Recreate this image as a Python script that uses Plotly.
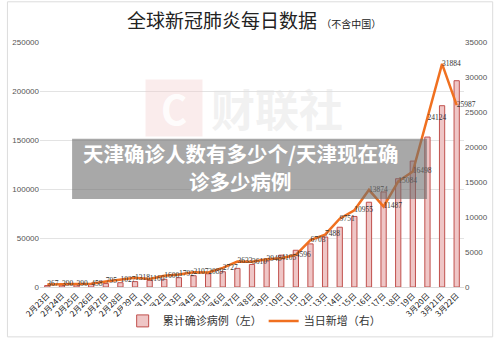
import plotly.graph_objects as go

dates = ['2月23日', '2月24日', '2月25日', '2月26日', '2月27日', '2月28日', '2月29日',
         '3月1日', '3月2日', '3月3日', '3月4日', '3月5日', '3月6日', '3月7日', '3月8日',
         '3月9日', '3月10日', '3月11日', '3月12日', '3月13日', '3月14日', '3月15日',
         '3月16日', '3月17日', '3月18日', '3月19日', '3月20日', '3月21日', '3月22日']

cumulative = [1500, 1900, 2300, 2700, 3500, 4400, 5500,
              6700, 7900, 9500, 11500, 13500, 15600, 19000, 23000,
              26500, 32500, 37500, 44000, 51000, 61000, 72000,
              86500, 97000, 110500, 128500, 153000, 185000, 210500]

daily_new = [367, 390, 390, 458, 795, 1027, 1318,
             1160, 1600, 1792, 2107, 2089, 2727, 3633, 3610,
             3948, 4105, 4596, 6703, 7488, 9751, 10955,
             13874, 11487, 15084, 16498, 24124, 31884, 25987]

left_ticks = [0, 50000, 100000, 150000, 200000, 250000]
right_ticks = [0, 5000, 10000, 15000, 20000, 25000, 30000, 35000]

W, H = 500, 347
ML, MR, MT, MB = 34, 30, 42, 52
PW, PH = W - ML - MR, H - MT - MB


def px(x):
    return (x - ML) / PW


def py(y):
    return (H - MB - y) / PH


fig = go.Figure()
fig.add_trace(go.Bar(
    x=dates, y=cumulative, name='累计确诊病例（左）',
    marker=dict(color='#efc6c6', line=dict(color='#c0504d', width=1)),
    yaxis='y'))
fig.add_trace(go.Scatter(
    x=dates, y=daily_new, name='当日新增（右）', mode='lines+text',
    line=dict(color='#f07020', width=2.5),
    text=[str(v) for v in daily_new], textposition='middle right',
    textfont=dict(size=7.5, color='#333', family='Liberation Serif'),
    cliponaxis=False,
    yaxis='y2'))

fig.update_layout(
    width=W, height=H,
    margin=dict(l=ML, r=MR, t=MT, b=MB),
    paper_bgcolor='white', plot_bgcolor='white',
    bargap=0.64,
    showlegend=True,
    legend=dict(orientation='h', x=px(119), xanchor='left', y=py(330), yanchor='middle',
                font=dict(size=11, family='Noto Sans CJK SC', color='#333'),
                entrywidth=96, entrywidthmode='pixels', itemwidth=30),
    xaxis=dict(type='category', range=[-0.5, 28.5], tickangle=-45,
               tickfont=dict(size=8, color='#222', family='Noto Sans CJK SC'),
               showgrid=False, showline=True, linecolor='#d9d9d9', ticks=''),
    yaxis=dict(range=[0, 250000], tickvals=left_ticks, ticktext=[str(v) for v in left_ticks],
               gridcolor='#e3e3e3', zeroline=False,
               tickfont=dict(size=8, color='#555', family='Liberation Sans')),
    yaxis2=dict(range=[0, 35000], tickvals=right_ticks, ticktext=[str(v) for v in right_ticks],
                overlaying='y', side='right', showgrid=False, zeroline=False,
                tickfont=dict(size=8, color='#555', family='Liberation Sans')),
    font=dict(family='Noto Sans CJK SC'),
)

annotations = [
    dict(xref='paper', yref='paper', x=px(254), y=py(19), xanchor='center', yanchor='middle',
         text='全球新冠肺炎每日数据 <span style="font-size:10px">（不含中国）</span>',
         showarrow=False, font=dict(size=19, color='#222', family='Noto Sans CJK SC')),
    # watermark
    dict(xref='paper', yref='paper', x=px(172), y=py(110), xanchor='center', yanchor='middle',
         text='<b>C</b>', showarrow=False, bgcolor='rgba(240,200,200,0.35)',
         font=dict(size=40, color='rgba(255,255,255,0.9)', family='Noto Sans CJK SC'),
         width=56, height=56, borderpad=0),
    dict(xref='paper', yref='paper', x=px(278), y=py(110), xanchor='center', yanchor='middle',
         text='<b>财联社</b>', showarrow=False, borderpad=0,
         font=dict(size=44, color='rgba(225,225,225,0.45)', family='Noto Sans CJK SC')),
    # overlay text (two lines)
    dict(xref='paper', yref='paper', x=px(240), y=py(157), xanchor='center', yanchor='middle',
         text='<b>天津确诊人数有多少个/天津现在确</b>', showarrow=False, borderpad=0,
         font=dict(size=20.5, color='white', family='Noto Sans CJK SC')),
    dict(xref='paper', yref='paper', x=px(240), y=py(186), xanchor='center', yanchor='middle',
         text='<b>诊多少病例</b>', showarrow=False, borderpad=0,
         font=dict(size=20.5, color='white', family='Noto Sans CJK SC')),
]
fig.update_layout(annotations=annotations)

fig.update_layout(shapes=[
    dict(type='rect', xref='paper', yref='paper', x0=px(67), x1=px(432), y0=py(204), y1=py(142),
         fillcolor='rgba(110,110,110,0.6)', line=dict(width=0), layer='above'),
    dict(type='rect', xref='paper', yref='paper', x0=px(0.5), x1=px(499.5), y0=py(346.5), y1=py(0.5),
         fillcolor='rgba(0,0,0,0)', line=dict(width=1, color='#dcdcdc'), layer='below'),
])

fig.write_html('out.html')
